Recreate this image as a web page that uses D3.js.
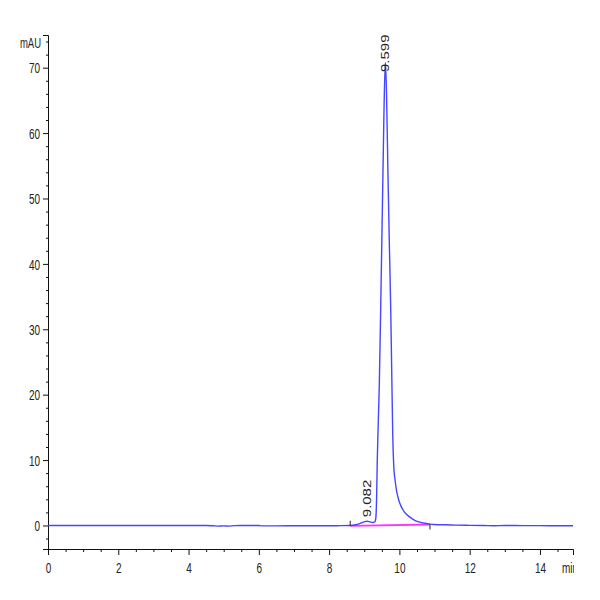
<!DOCTYPE html>
<html>
<head>
<meta charset="utf-8">
<script src="https://cdn.jsdelivr.net/npm/d3@7"></script>
<style>
  html, body { margin: 0; padding: 0; background: #fff; }
  svg { display: block; }
  text { font-family: "Liberation Sans", Arial, sans-serif; fill: #222; }
</style>
</head>
<body>
<svg id="chart" width="600" height="600"></svg>
<script>
// ---- data ----
const times = [0, 0.5, 1, 1.5, 2, 2.5, 3, 3.5, 4, 4.5, 4.7, 4.85, 5.0, 5.15, 5.3, 5.5, 6.0, 6.08, 6.2, 6.5, 7.0, 7.5, 8.0, 8.3, 8.6, 8.75, 8.9, 9.0, 9.08, 9.16, 9.24, 9.3, 9.33, 9.35, 9.37, 9.40, 9.43, 9.47, 9.52, 9.56, 9.599, 9.63, 9.67, 9.71, 9.75, 9.78, 9.81, 9.84, 9.88, 9.92, 9.98, 10.06, 10.15, 10.3, 10.45, 10.58, 10.72, 10.87, 11.0, 11.3, 11.6, 12.0, 12.4, 12.7, 13.0, 13.5, 14.0, 14.5, 14.94];
const absorbance = [0, 0, 0, 0, 0, 0, 0, 0, 0, 0, -0.05, -0.1, -0.06, -0.1, -0.02, 0, 0, -0.07, -0.07, -0.06, -0.04, -0.04, -0.04, -0.03, 0.0, 0.1, 0.35, 0.55, 0.65, 0.55, 0.45, 0.55, 1.2, 4, 10, 16, 22, 34, 50, 63, 70.8, 67, 55, 44, 34, 24, 14, 9, 6.8, 5.3, 3.9, 2.8, 2.0, 1.27, 0.75, 0.5, 0.33, 0.2, 0.15, 0.1, 0.05, 0.02, 0, -0.04, 0, -0.02, -0.03, -0.04, -0.04];

const baselineTimes = [8.6, 10.87];
const baselineValues = [-0.05, 0.15];

const peakTimes = [9.082, 9.599];
const peakHeights = [0.65, 70.8];
const peakLabels = ["9.082", "9.599"];

const yMajorTicks = [0, 10, 20, 30, 40, 50, 60, 70];
const xMajorTicks = [0, 2, 4, 6, 8, 10, 12, 14];
const yUnit = "mAU";
const xUnit = "min";

// ---- layout ----
const svg = d3.select("#chart");
const x = d3.scaleLinear().domain([0, 14.94]).range([48, 573]);
const y = d3.scaleLinear().domain([-3.6, 75]).range([549, 35]);

const yMinor = d3.range(-2, 75, 2).filter(v => v % 10 !== 0);
const xMinor = d3.range(0, 15, 0.5).filter(v => v % 2 !== 0);

const STRETCH = 1.5;

// Axes
const gyMinor = svg.append("g").attr("transform", `translate(${x(0)},0)`)
  .call(d3.axisLeft(y).tickValues(yMinor).tickSize(2).tickFormat(""));
const gy = svg.append("g").attr("transform", `translate(${x(0)},0)`)
  .call(d3.axisLeft(y).tickValues(yMajorTicks).tickSize(5).tickFormat(d3.format("d")));
const gxMinor = svg.append("g").attr("transform", `translate(0,${y.range()[0]})`)
  .call(d3.axisBottom(x).tickValues(xMinor).tickSize(3).tickFormat(""));
const gx = svg.append("g").attr("transform", `translate(0,${y.range()[0]})`)
  .call(d3.axisBottom(x).tickValues(xMajorTicks).tickSize(6).tickFormat(d3.format("d")));

[gyMinor, gy, gxMinor, gx].forEach(g => {
  g.select(".domain").attr("stroke", "#111").attr("stroke-width", 1);
  g.selectAll(".tick line").attr("stroke", "#111");
});
gyMinor.select(".domain").remove();
gxMinor.select(".domain").remove();

gy.selectAll(".tick text")
  .attr("font-size", 10)
  .attr("fill", "#222")
  .attr("x", null).attr("y", null).attr("dy", "0.35em")
  .attr("text-anchor", "end")
  .attr("transform", `translate(-8,0) scale(1,${STRETCH})`);

gx.selectAll(".tick text")
  .attr("font-size", 10)
  .attr("fill", "#222")
  .attr("x", null).attr("y", null).attr("dy", null)
  .attr("text-anchor", "middle")
  .attr("transform", `translate(0,24) scale(1,${STRETCH})`);

// unit labels
svg.append("text")
  .attr("font-size", 9.5)
  .attr("text-anchor", "end")
  .attr("transform", `translate(41,48) scale(1,${STRETCH})`)
  .text(yUnit);

svg.append("defs").append("clipPath").attr("id", "clipUnit")
  .append("rect").attr("x", 540).attr("y", 550).attr("width", 34).attr("height", 40);
svg.append("g")
  .attr("clip-path", "url(#clipUnit)")
  .append("text")
  .attr("font-size", 10)
  .attr("text-anchor", "start")
  .attr("transform", `translate(562,573) scale(1,${STRETCH})`)
  .text(xUnit);

// Baseline (integration) line
svg.append("path")
  .datum(baselineTimes.map((t, i) => [t, baselineValues[i]]))
  .attr("fill", "none")
  .attr("stroke", "#ff33ff")
  .attr("stroke-width", 1.8)
  .attr("d", d3.line().x(d => x(d[0])).y(d => y(d[1])));

// Chromatogram trace
const trace = times.map((t, i) => [t, absorbance[i]]);
svg.append("path")
  .datum(trace)
  .attr("fill", "none")
  .attr("stroke", "#4646ff")
  .attr("stroke-width", 1.4)
  .attr("stroke-linejoin", "round")
  .attr("d", d3.line().curve(d3.curveMonotoneX).x(d => x(d[0])).y(d => y(d[1])));

// Baseline start/end markers
svg.append("line")
  .attr("x1", x(baselineTimes[0])).attr("x2", x(baselineTimes[0]))
  .attr("y1", y(baselineValues[0]) - 5).attr("y2", y(baselineValues[0]))
  .attr("stroke", "#222").attr("stroke-width", 1);
svg.append("line")
  .attr("x1", x(baselineTimes[1])).attr("x2", x(baselineTimes[1]))
  .attr("y1", y(baselineValues[1])).attr("y2", y(baselineValues[1]) + 5)
  .attr("stroke", "#222").attr("stroke-width", 1);

// Peak labels (rotated)
peakTimes.forEach((t, i) => {
  const labelLen = 37;
  let startY = y(peakHeights[i]) - 4;
  startY = Math.max(startY, y.range()[1] + labelLen);
  svg.append("text")
    .attr("font-size", 10)
    .attr("fill", "#222")
    .attr("text-anchor", "start")
    .attr("dy", "0.35em")
    .attr("transform", `translate(${x(t)},${startY}) scale(1,${STRETCH}) rotate(-90)`)
    .text(peakLabels[i]);
});
</script>
</body>
</html>
